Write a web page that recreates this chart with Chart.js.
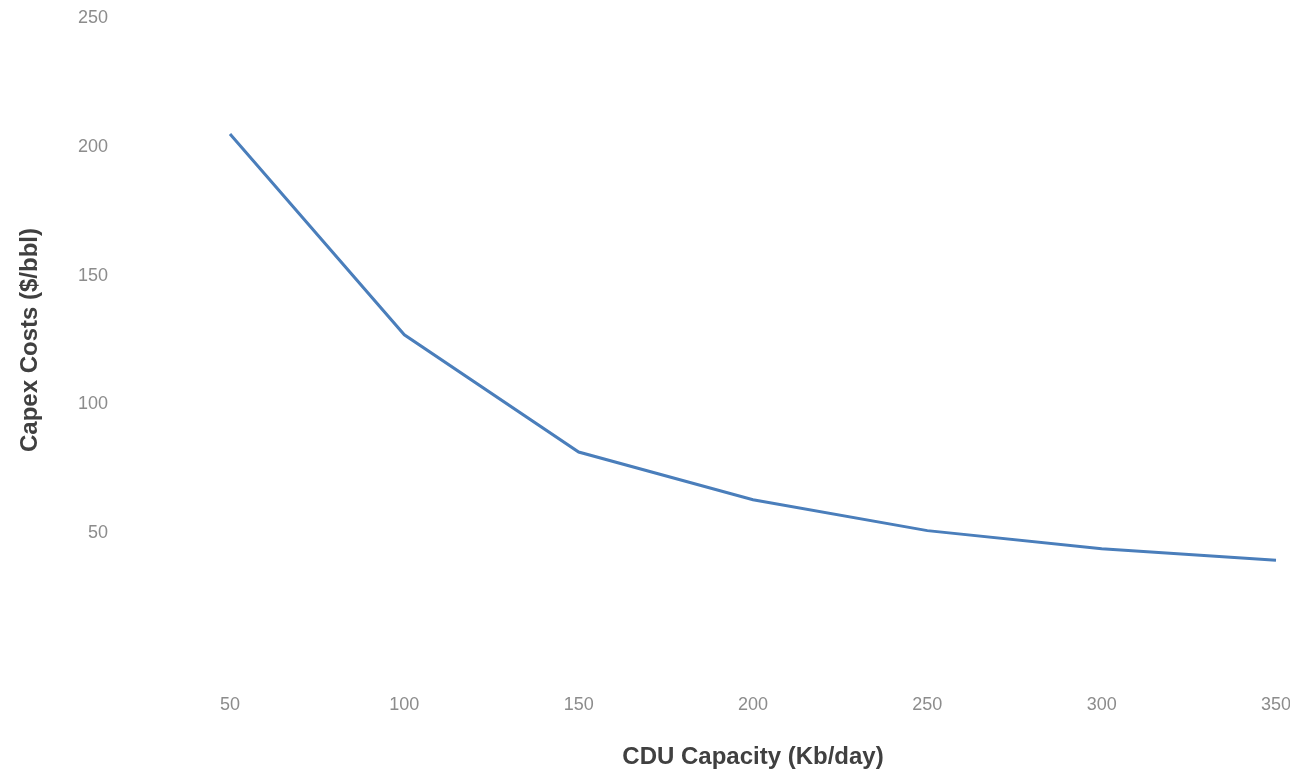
<!DOCTYPE html>
<html>
<head>
<meta charset="utf-8">
<script src="https://cdn.jsdelivr.net/npm/chart.js@4.4.1/dist/chart.umd.min.js"></script>
<style>
  html, body { margin: 0; padding: 0; background: #fff; }
  #wrap { width: 1290px; height: 772px; }
</style>
</head>
<body>
<div id="wrap"><canvas id="capex-chart"></canvas></div>
<script>
// CDU capacity categories (Kb/day) and capex per barrel
var capacities = ['50', '100', '150', '200', '250', '300', '350'];
var capexCosts = [205, 127, 81.5, 63, 51, 44, 39.5];
// the original shows no label at zero
var yTicks = [50, 100, 150, 200, 250];

var tickColor = '#8c8c8c';
var titleColor = '#404040';

var ctx = document.getElementById('capex-chart');
var capexChart = new Chart(ctx, {
    type: 'line',
    data: {
        labels: capacities,
        datasets: [{
            data: capexCosts,
            borderColor: '#4a7ebb',
            borderWidth: 3,
            pointRadius: 0,
            tension: 0,
            fill: false
        }]
    },
    options: {
        responsive: true,
        maintainAspectRatio: false,
        animation: false,
        layout: {
            padding: { left: 8, right: 14, top: 18, bottom: 0 }
        },
        plugins: {
            legend: { display: false },
            tooltip: { enabled: false }
        },
        scales: {
            x: {
                offset: false,
                grid: { display: false, drawTicks: false },
                border: { display: false },
                ticks: {
                    color: tickColor,
                    font: { family: 'Liberation Sans', size: 18 },
                    padding: 32,
                    maxRotation: 0
                },
                title: {
                    display: true,
                    text: 'CDU Capacity (Kb/day)',
                    color: titleColor,
                    font: { family: 'Liberation Sans', size: 24, weight: 'bold' },
                    padding: { top: 20, bottom: 0 }
                },
                afterFit: function(axis) {
                    // keep the plot edges on the first and last points
                    axis.height = 110;
                    axis.paddingLeft = 0;
                    axis.paddingRight = 0;
                }
            },
            y: {
                min: 0,
                max: 250,
                grid: { display: false, drawTicks: false },
                border: { display: false },
                afterBuildTicks: function(axis) {
                    axis.ticks = yTicks.map(function(v) { return { value: v }; });
                },
                ticks: {
                    color: tickColor,
                    font: { family: 'Liberation Sans', size: 18 },
                    padding: 122
                },
                title: {
                    display: true,
                    text: 'Capex Costs ($/bbl)',
                    color: titleColor,
                    font: { family: 'Liberation Sans', size: 24, weight: 'bold' },
                    padding: { top: 8, bottom: 30 }
                },
                afterFit: function(axis) {
                    // labels sit far left of the plot, as in the original
                    axis.width = 222;
                    axis.paddingTop = 0;
                    axis.paddingBottom = 0;
                }
            }
        }
    }
});
</script>
</body>
</html>
